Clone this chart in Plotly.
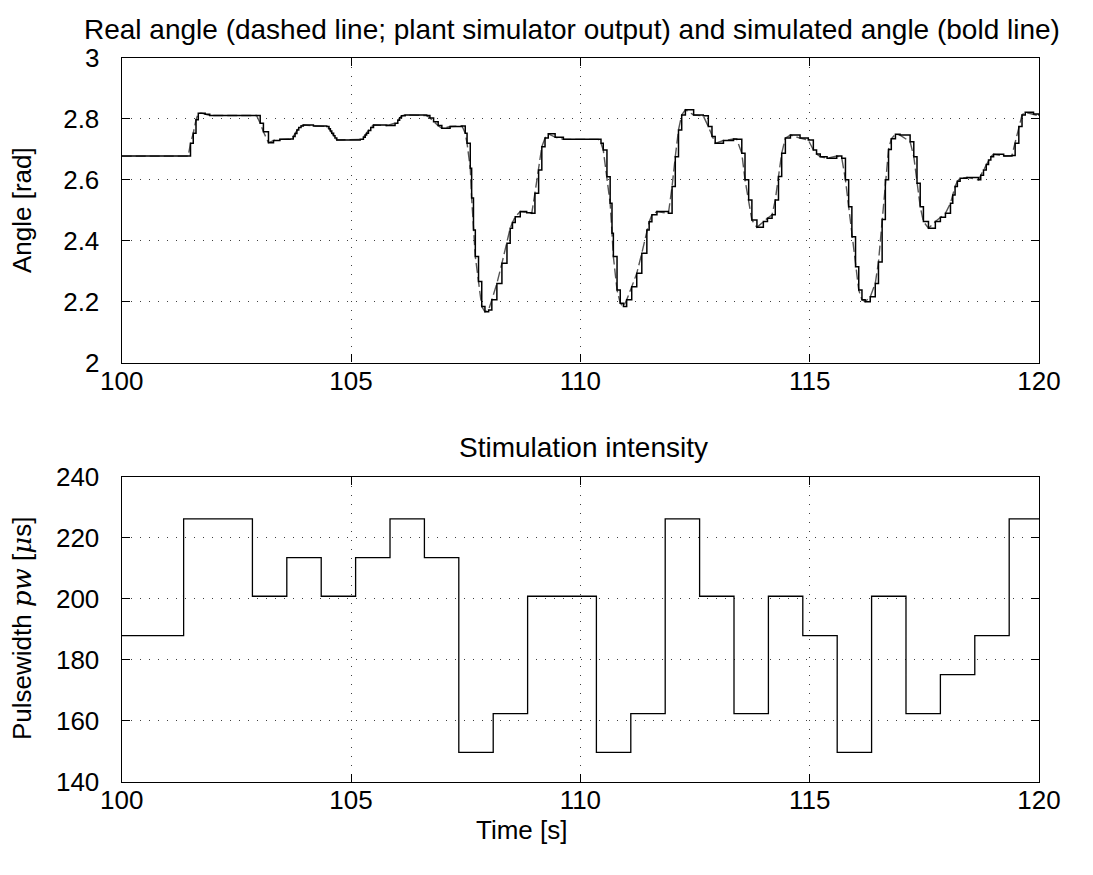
import plotly.graph_objects as go

# ---------------- data ----------------
angle_time = [100.0, 101.45, 101.5, 101.56, 101.62, 101.67, 101.74, 101.82, 101.92, 102.94,
              103.02, 103.09, 103.2, 103.31, 103.45, 103.67, 103.74, 103.78, 103.82, 103.86,
              103.91, 103.96, 104.18, 104.47, 104.52, 104.55, 104.58, 104.62, 104.65, 104.69,
              104.91, 105.2, 105.27, 105.31, 105.34, 105.38, 105.43, 105.49, 105.78, 105.96,
              106.02, 106.06, 106.1, 106.18, 106.29, 106.65, 106.72, 106.8, 106.9, 106.98,
              107.16, 107.42, 107.49, 107.53, 107.6, 107.63, 107.67, 107.71, 107.78, 107.85,
              107.92, 108.0, 108.07, 108.18, 108.29, 108.4, 108.47, 108.52, 108.58, 108.69,
              108.83, 108.94, 109.01, 109.09, 109.16, 109.23, 109.3, 109.45, 109.63, 110.39,
              110.45, 110.5, 110.58, 110.65, 110.69, 110.72, 110.8, 110.87, 110.94, 111.01,
              111.12, 111.23, 111.34, 111.45, 111.5, 111.56, 111.67, 111.92, 112.0, 112.07,
              112.14, 112.21, 112.29, 112.47, 112.68, 112.79, 112.87, 112.94, 113.12, 113.34,
              113.41, 113.52, 113.59, 113.67, 113.74, 113.85, 113.99, 114.08, 114.18, 114.25,
              114.32, 114.39, 114.47, 114.58, 114.79, 114.97, 115.08, 115.15, 115.23, 115.38,
              115.59, 115.7, 115.78, 115.85, 115.92, 116.0, 116.07, 116.14, 116.21, 116.32,
              116.43, 116.5, 116.58, 116.65, 116.72, 116.78, 116.87, 116.97, 117.19, 117.27,
              117.34, 117.41, 117.48, 117.59, 117.74, 117.85, 117.96, 118.07, 118.12, 118.17,
              118.22, 118.28, 118.43, 118.68, 118.73, 118.79, 118.85, 118.9, 118.95, 119.01,
              119.23, 119.41, 119.48, 119.56, 119.63, 119.7, 119.88, 120.0]
angle_rad = [2.678, 2.678, 2.72, 2.753, 2.797, 2.819, 2.819, 2.815, 2.811, 2.811,
             2.786, 2.758, 2.722, 2.729, 2.733, 2.734, 2.742, 2.752, 2.764, 2.772,
             2.777, 2.780, 2.777, 2.775, 2.768, 2.760, 2.753, 2.745, 2.737, 2.731,
             2.731, 2.733, 2.740, 2.747, 2.753, 2.762, 2.772, 2.780, 2.778, 2.786,
             2.796, 2.804, 2.810, 2.813, 2.813, 2.811, 2.803, 2.791, 2.778, 2.769,
             2.775, 2.777, 2.753, 2.72, 2.638, 2.54, 2.435, 2.348, 2.266, 2.184,
             2.167, 2.173, 2.206, 2.26, 2.326, 2.392, 2.441, 2.46, 2.479, 2.496,
             2.492, 2.49, 2.556, 2.632, 2.709, 2.737, 2.751, 2.74, 2.733, 2.733,
             2.72, 2.698, 2.61, 2.523, 2.425, 2.348, 2.238, 2.195, 2.184, 2.206,
             2.249, 2.293, 2.359, 2.435, 2.462, 2.485, 2.496, 2.49, 2.578, 2.676,
             2.764, 2.813, 2.83, 2.813, 2.81, 2.775, 2.742, 2.72, 2.729, 2.734,
             2.733, 2.687, 2.6, 2.534, 2.468, 2.444, 2.463, 2.474, 2.485, 2.534,
             2.611, 2.687, 2.737, 2.747, 2.737, 2.731, 2.698, 2.685, 2.676, 2.671,
             2.678, 2.671, 2.6, 2.512, 2.413, 2.315, 2.238, 2.206, 2.2, 2.216,
             2.26, 2.33, 2.47, 2.60, 2.70, 2.735, 2.75, 2.747, 2.725, 2.676,
             2.589, 2.512, 2.463, 2.441, 2.463, 2.477, 2.49, 2.523, 2.55, 2.578,
             2.595, 2.605, 2.608, 2.6, 2.615, 2.632, 2.65, 2.665, 2.676, 2.684,
             2.678, 2.68, 2.72, 2.775, 2.813, 2.822, 2.816, 2.81]

pw_time = [100, 101.35, 102.85, 103.6, 104.35, 105.1, 105.85, 106.6, 107.35, 108.1,
           108.85, 110.35, 111.1, 111.85, 112.6, 113.35, 114.1, 114.85, 115.6, 116.35,
           117.1, 117.85, 118.6, 119.35, 120]
pw_us = [187.9, 226.2, 200.8, 213.5, 200.8, 213.5, 226.2, 213.5, 149.6, 162.3,
         200.8, 149.6, 162.3, 226.2, 200.8, 162.3, 200.8, 187.9, 149.6, 200.8,
         162.3, 175.1, 187.9, 226.2, 226.2]

x_ticks = [100, 105, 110, 115, 120]
angle_ticks = [2, 2.2, 2.4, 2.6, 2.8, 3]
angle_ticktext = ["2", "2.2", "2.4", "2.6", "2.8", "3"]
pw_ticks = [140, 160, 180, 200, 220, 240]

# ---------------- figure ----------------
W, H = 1093, 875
FONT = "Liberation Sans, Arial, Helvetica, sans-serif"
x0, x1 = 121.7, 1039.0
top_y0, top_y1 = 58.0, 362.6
bot_y0, bot_y1 = 476.7, 781.7

fig = go.Figure()

# real angle (dashed)
fig.add_trace(go.Scatter(x=angle_time, y=angle_rad, mode="lines",
                         line=dict(color="#555555", width=1.4, dash="10px,4px"),
                         xaxis="x", yaxis="y", showlegend=False))
# simulated angle (bold, staircase)
fig.add_trace(go.Scatter(x=angle_time, y=angle_rad, mode="lines",
                         line=dict(color="black", width=1.5, shape="hv"),
                         xaxis="x", yaxis="y", showlegend=False))
# pulsewidth
fig.add_trace(go.Scatter(x=pw_time, y=pw_us, mode="lines",
                         line=dict(color="black", width=1.3, shape="hv"),
                         xaxis="x2", yaxis="y2", showlegend=False))

axis_common = dict(showline=True, linecolor="black", linewidth=1.3, mirror="ticks",
                   ticks="inside", ticklen=8, tickcolor="black", tickwidth=1,
                   showgrid=True, gridcolor="rgba(0,0,0,0.75)", gridwidth=1,
                   griddash="1px,8px", zeroline=False, automargin=False,
                   tickfont=dict(family=FONT, size=26, color="black"))

fig.update_layout(
    width=W, height=H,
    margin=dict(l=0, r=0, t=0, b=0),
    paper_bgcolor="white", plot_bgcolor="white",
    font=dict(family=FONT, color="black"),
    xaxis=dict(domain=[x0 / W, x1 / W], range=[100, 120], tickvals=x_ticks,
               anchor="y", ticklabelstandoff=-5, **axis_common),
    yaxis=dict(domain=[1 - top_y1 / H, 1 - top_y0 / H], range=[2, 3],
               tickvals=angle_ticks, ticktext=angle_ticktext, anchor="x",
               ticklabelstandoff=16, **axis_common),
    xaxis2=dict(domain=[x0 / W, x1 / W], range=[100, 120], tickvals=x_ticks,
                anchor="y2", ticklabelstandoff=-5, **axis_common),
    yaxis2=dict(domain=[1 - bot_y1 / H, 1 - bot_y0 / H], range=[140, 240],
                tickvals=pw_ticks, anchor="x2", ticklabelstandoff=16, **axis_common),
)

def ann(text, xpx, ypx, size, angle=0):
    fig.add_annotation(text=text, x=xpx / W, y=1 - ypx / H, xref="paper", yref="paper",
                       showarrow=False, textangle=angle, xanchor="center", yanchor="middle",
                       font=dict(family=FONT, size=size, color="black"))

ann("Real angle (dashed line; plant simulator output) and simulated angle (bold line)",
    572, 30, 28)
ann("Angle [rad]", 22, 210, 26, -90)
ann("Stimulation intensity", 583, 447, 28)
ann("Pulsewidth <span style='font-family:DejaVu Serif'><i>pw</i></span> "
    "[<span style='font-family:DejaVu Serif'><i>μ</i></span>s]", 22, 629, 26, -90)
ann("Time [s]", 521, 830, 26)

fig.write_html("out.html")
